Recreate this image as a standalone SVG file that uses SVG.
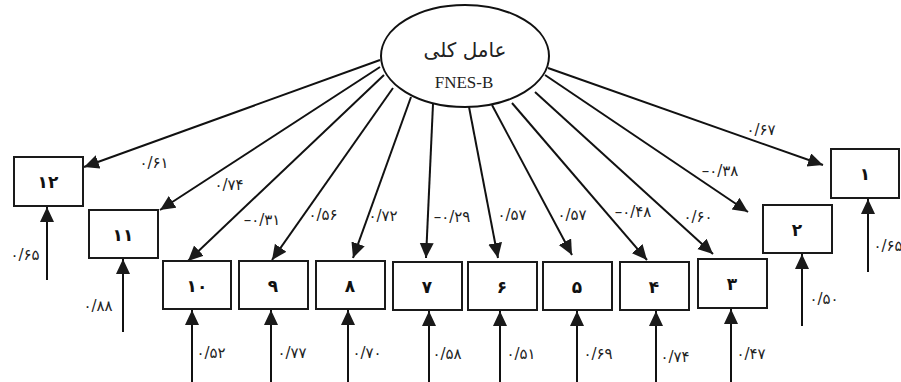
<svg xmlns="http://www.w3.org/2000/svg" width="901" height="382" viewBox="0 0 901 382">
<defs>
<marker id="ah" markerUnits="userSpaceOnUse" markerWidth="16" markerHeight="15" refX="15" refY="7" orient="auto">
<path d="M0,0 L15,7 L0,14 z" fill="#1a1a1a"/>
</marker>
<style>
.box{fill:#fff;stroke:#1a1a1a;stroke-width:2}
.bl{font-family:"DejaVu Sans",sans-serif;font-weight:bold;font-size:17px;text-anchor:middle;fill:#111}
.cf{font-family:"DejaVu Sans",sans-serif;font-size:15px;text-anchor:middle;fill:#222}
.ln{stroke:#111;stroke-width:2;fill:none;marker-end:url(#ah)}
</style>
</defs>
<rect width="901" height="382" fill="#fff"/>
<g id="connectors">
<line class="ln" x1="380" y1="60" x2="84" y2="167"/>
<line class="ln" x1="380" y1="67" x2="160" y2="210"/>
<line class="ln" x1="384" y1="75" x2="188" y2="261"/>
<line class="ln" x1="393" y1="88" x2="272" y2="260"/>
<line class="ln" x1="411" y1="97" x2="353" y2="258"/>
<line class="ln" x1="433" y1="104" x2="426" y2="258"/>
<line class="ln" x1="469" y1="107" x2="498" y2="258"/>
<line class="ln" x1="492" y1="105" x2="572" y2="255"/>
<line class="ln" x1="512" y1="103" x2="647" y2="260"/>
<line class="ln" x1="535" y1="92" x2="713" y2="254"/>
<line class="ln" x1="545" y1="75" x2="748" y2="212"/>
<line class="ln" x1="548" y1="68" x2="823" y2="165"/>
<line class="ln" x1="47" y1="280" x2="47" y2="207"/>
<line class="ln" x1="123" y1="332" x2="123" y2="259"/>
<line class="ln" x1="192" y1="382" x2="192" y2="310"/>
<line class="ln" x1="271" y1="382" x2="271" y2="310"/>
<line class="ln" x1="348" y1="382" x2="348" y2="310"/>
<line class="ln" x1="429" y1="382" x2="429" y2="311"/>
<line class="ln" x1="500" y1="382" x2="500" y2="311"/>
<line class="ln" x1="577" y1="382" x2="577" y2="311"/>
<line class="ln" x1="656" y1="382" x2="656" y2="311"/>
<line class="ln" x1="731" y1="382" x2="731" y2="309"/>
<line class="ln" x1="802" y1="326" x2="802" y2="254"/>
<line class="ln" x1="868" y1="272" x2="868" y2="199"/>
<g class="cf">
<text x="154" y="168">۰/۶۱</text>
<text x="229" y="190">۰/۷۴</text>
<text x="262" y="225">–۰/۳۱</text>
<text x="323" y="220">۰/۵۶</text>
<text x="383" y="221">۰/۷۲</text>
<text x="452" y="222">–۰/۲۹</text>
<text x="512" y="220">۰/۵۷</text>
<text x="572" y="220">۰/۵۷</text>
<text x="633" y="217">–۰/۴۸</text>
<text x="698" y="222">۰/۶۰</text>
<text x="720" y="176">–۰/۳۸</text>
<text x="761" y="135">۰/۶۷</text>
<text x="25" y="260">۰/۶۵</text>
<text x="98" y="311">۰/۸۸</text>
<text x="211" y="358">۰/۵۲</text>
<text x="292" y="358">۰/۷۷</text>
<text x="367" y="358">۰/۷۰</text>
<text x="447" y="359">۰/۵۸</text>
<text x="521" y="359">۰/۵۱</text>
<text x="598" y="359">۰/۶۹</text>
<text x="675" y="362">۰/۷۴</text>
<text x="751" y="359">۰/۴۷</text>
<text x="824" y="304">۰/۵۰</text>
<text x="888" y="251">۰/۶۵</text>
</g>
</g>
<g id="factor">
<ellipse cx="465" cy="56" rx="84" ry="51" fill="#fff" stroke="#111" stroke-width="2"/>
<text x="465" y="57" font-family="DejaVu Sans, sans-serif" font-size="20" text-anchor="middle" fill="#222">عامل کلی</text>
<text x="464" y="88" font-family="Liberation Serif, serif" font-size="17" text-anchor="middle" fill="#222">FNES-B</text>
</g>
<g id="n12"><rect class="box" x="14" y="157" width="69" height="49"/><text class="bl" x="48" y="188">۱۲</text></g>
<g id="n11"><rect class="box" x="89" y="210" width="69" height="48"/><text class="bl" x="123" y="241">۱۱</text></g>
<g id="n10"><rect class="box" x="163" y="261" width="68" height="48"/><text class="bl" x="197" y="292">۱۰</text></g>
<g id="n9"><rect class="box" x="239" y="261" width="69" height="48"/><text class="bl" x="273" y="292">۹</text></g>
<g id="n8"><rect class="box" x="316" y="261" width="69" height="48"/><text class="bl" x="350" y="292">۸</text></g>
<g id="n7"><rect class="box" x="393" y="262" width="69" height="48"/><text class="bl" x="427" y="293">۷</text></g>
<g id="n6"><rect class="box" x="468" y="262" width="69" height="48"/><text class="bl" x="502" y="293">۶</text></g>
<g id="n5"><rect class="box" x="543" y="262" width="69" height="48"/><text class="bl" x="577" y="293">۵</text></g>
<g id="n4"><rect class="box" x="620" y="262" width="69" height="48"/><text class="bl" x="654" y="293">۴</text></g>
<g id="n3"><rect class="box" x="698" y="259" width="69" height="49"/><text class="bl" x="732" y="290">۳</text></g>
<g id="n2"><rect class="box" x="763" y="205" width="69" height="48"/><text class="bl" x="797" y="236">۲</text></g>
<g id="n1"><rect class="box" x="831" y="149" width="68" height="49"/><text class="bl" x="865" y="180">۱</text></g>
</svg>
